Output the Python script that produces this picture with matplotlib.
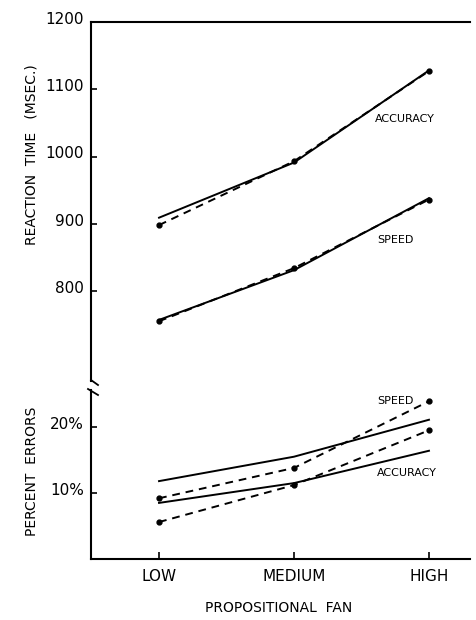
import matplotlib
matplotlib.use("Agg")
import matplotlib.pyplot as plt
import matplotlib.transforms as mtransforms
from matplotlib.lines import Line2D

# ---- data ----
fan_levels = ["LOW", "MEDIUM", "HIGH"]
rt_accuracy_pred = [909, 991, 1128]
rt_accuracy_obs = [898, 993, 1127]
rt_speed_pred = [757, 831, 938]
rt_speed_obs = [755, 834, 936]

err_speed_pred = [11.8, 15.5, 21.1]
err_speed_obs = [9.2, 13.8, 23.9]
err_accuracy_pred = [8.5, 11.5, 16.4]
err_accuracy_obs = [5.6, 11.2, 19.5]

rt_ticks = [800, 900, 1000, 1100, 1200]
rt_ticklabels = ["800", "900", "1000", "1100", "1200"]
err_ticks = [10, 20]
err_ticklabels = ["10%", "20%"]

plt.rcParams['font.family'] = ['DejaVu Sans']
W, H = 477, 620
fig = plt.figure(figsize=(W / 100, H / 100), dpi=100)

def fx(px):
    return px / W

def fy(py):
    return 1 - py / H

left, right = fx(91), fx(470)
ax1 = fig.add_axes([left, fy(381), right - left, fy(22) - fy(381)])
ax2 = fig.add_axes([left, fy(559), right - left, fy(390) - fy(559)])

x = list(range(len(fan_levels)))
lw = 1.4
solid_kw = dict(color="black", lw=lw, ls="-")
dash_kw = dict(color="black", lw=lw, ls=(0, (4, 3)), marker="o", ms=3.5)

# top panel
ax1.plot(x, rt_accuracy_pred, **solid_kw)
ax1.plot(x, rt_accuracy_obs, **dash_kw)
ax1.plot(x, rt_speed_pred, **solid_kw)
ax1.plot(x, rt_speed_obs, **dash_kw)
ax1.set_xlim(-0.504, 2.304)
ax1.set_ylim(1200 - 359 / 0.6725, 1200)
ax1.set_yticks(rt_ticks)
ax1.set_yticklabels(rt_ticklabels)
ax1.set_xticks([])
for s in ["right", "bottom"]:
    ax1.spines[s].set_visible(False)
for s in ["left", "top"]:
    ax1.spines[s].set_linewidth(1.5)
ax1.tick_params(axis="y", direction="in", length=4, width=1.2, pad=5, labelsize=11)
ax1.text(1.6, 1056, "ACCURACY", fontsize=8, va="center", ha="left")
ax1.text(1.615, 876, "SPEED", fontsize=8, va="center", ha="left")

# bottom panel
ax2.plot(x, err_speed_pred, **solid_kw)
ax2.plot(x, err_speed_obs, **dash_kw)
ax2.plot(x, err_accuracy_pred, **solid_kw)
ax2.plot(x, err_accuracy_obs, **dash_kw)
ax2.set_xlim(-0.504, 2.304)
ax2.set_ylim(0, 169 / 6.6)
ax2.set_yticks(err_ticks)
ax2.set_yticklabels(err_ticklabels)
ax2.set_xticks(x)
ax2.set_xticklabels(fan_levels)
for s in ["right", "top"]:
    ax2.spines[s].set_visible(False)
for s in ["left", "bottom"]:
    ax2.spines[s].set_linewidth(1.5)
ax2.tick_params(axis="y", direction="in", length=4, width=1.2, pad=5, labelsize=11)
ax2.tick_params(axis="x", direction="in", length=5, width=1.2, pad=7, labelsize=11)
ax2.text(1.615, 23.9, "SPEED", fontsize=8, va="center", ha="left")
ax2.text(1.615, 13.0, "ACCURACY", fontsize=8, va="center", ha="left")

# raise y tick labels slightly, as in the reference
offset = mtransforms.ScaledTranslation(0, 4 / 100, fig.dpi_scale_trans)
for ax in (ax1, ax2):
    for lab in ax.get_yticklabels():
        lab.set_transform(lab.get_transform() + offset)

# axis break marks
fig.add_artist(Line2D([fx(91), fx(98)], [fy(380), fy(385)], color="black", lw=1.3))
fig.add_artist(Line2D([fx(88), fx(98)], [fy(389), fy(395)], color="black", lw=1.3))

# axis labels
fig.text(fx(32), fy(155), "REACTION  TIME   (MSEC.)", rotation=90, ha="center", va="center", fontsize=10)
fig.text(fx(32), fy(471), "PERCENT  ERRORS", rotation=90, ha="center", va="center", fontsize=10)
fig.text(fx(279), fy(608), "PROPOSITIONAL  FAN", ha="center", va="center", fontsize=10)

fig.savefig("out.png", dpi=100)
